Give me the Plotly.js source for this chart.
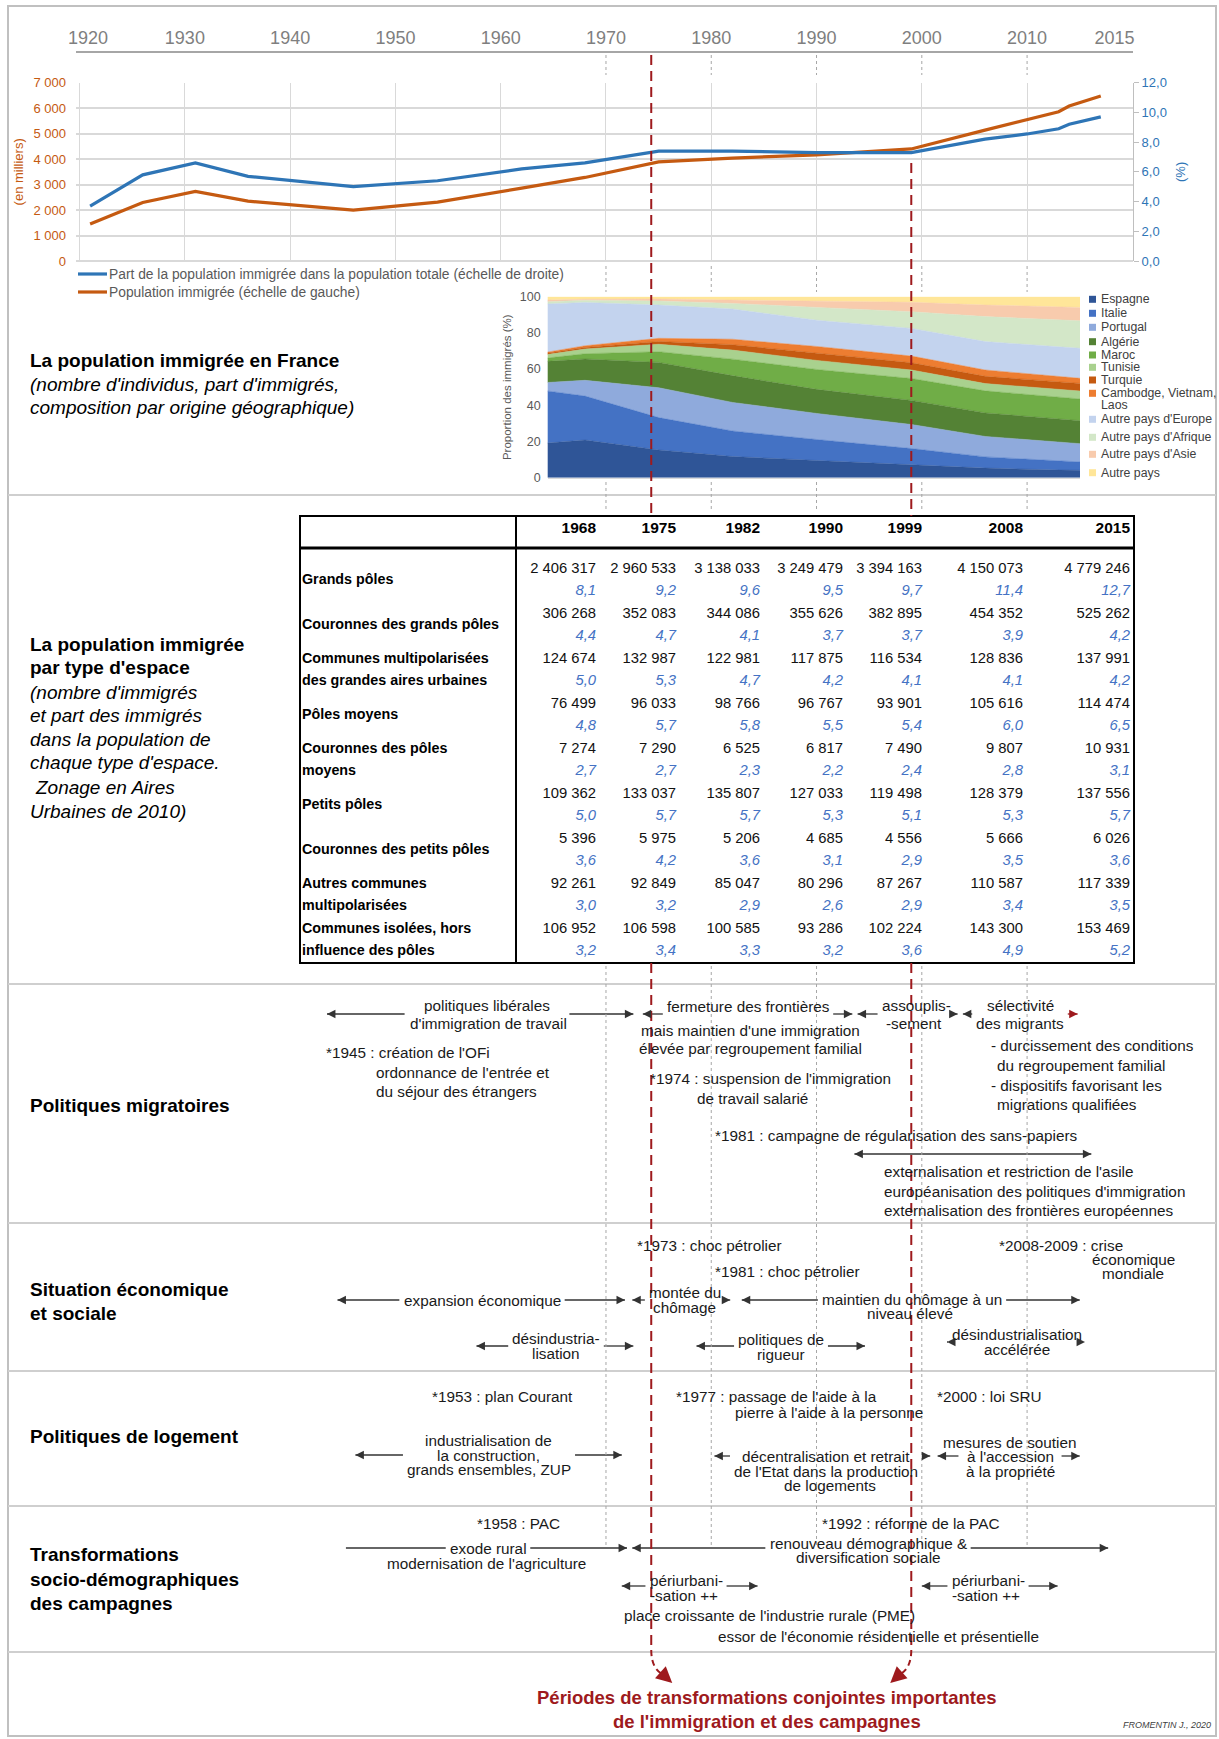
<!DOCTYPE html>
<html lang="fr">
<head>
<meta charset="utf-8">
<title>La population immigrée en France</title>
<script src="https://cdn.plot.ly/plotly-3.0.1.min.js"></script>
<style>
html,body{margin:0;padding:0;background:#fff;}
#chart{width:1219px;height:1739px;}
</style>
</head>
<body>
<div id="chart"></div>
<script>
// ======================= DATA =======================
// Line chart : immigrant population (thousands) and share of total population (%)
const popYears      = [1921, 1926, 1931, 1936, 1946, 1954, 1962, 1968, 1975, 1982, 1990, 1999, 2006, 2010, 2013, 2014, 2017];
const popImmigree   = [1450, 2300, 2730, 2350, 2000, 2310, 2860, 3280, 3890, 4040, 4170, 4400, 5140, 5540, 5860, 6085, 6480];
const partImmigree  = [3.7, 5.8, 6.6, 5.7, 5.0, 5.4, 6.2, 6.6, 7.4, 7.4, 7.3, 7.3, 8.2, 8.55, 8.9, 9.2, 9.7];
const lineNames     = ['Part de la population immigrée dans la population totale (échelle de droite)', 'Population immigrée (échelle de gauche)'];
const topTickLabels = ['1920','1930','1940','1950','1960','1970','1980','1990','2000','2010','2015'];

// Stacked area : composition by origin (%)
const originYears  = [1962, 1968, 1975, 1982, 1990, 1999, 2006, 2013, 2015];
const originNames  = ['Espagne','Italie','Portugal','Algérie','Maroc','Tunisie','Turquie','Cambodge, Vietnam,|Laos',"Autre pays d'Europe","Autre pays d'Afrique","Autre pays d'Asie",'Autre pays'];
const espagne      = [18.0, 20.8, 15.3, 11.7,  9.5,  7.3,  5.3,  4.2,  4.1];
const italie       = [31.8, 24.3, 17.9, 14.1, 11.6,  8.8,  6.2,  4.9,  4.6];
const portugal     = [ 2.0,  8.7, 16.5, 15.8, 14.4, 13.3, 11.3, 10.3, 10.1];
const algerie      = [11.6, 11.8, 14.0, 14.8, 13.3, 13.3, 13.0, 12.8, 12.7];
const maroc        = [ 1.1,  2.9,  5.9,  9.1, 11.0, 12.1, 12.2, 12.0, 12.0];
const tunisie      = [ 1.5,  2.6,  4.1,  5.0,  5.0,  4.7,  4.0,  4.4,  4.4];
const turquie      = [ 0.7,  0.9,  1.6,  3.0,  4.0,  4.0,  4.0,  4.2,  4.2];
const cambodge     = [ 0.3,  0.9,  1.7,  3.0,  3.7,  3.7,  3.5,  3.0,  2.8];
const autreEurope  = [28.5, 23.9, 18.4, 16.7, 14.5, 15.3, 15.7, 16.6, 16.6];
const autreAfrique = [ 1.1,  1.3,  2.2,  3.1,  7.1,  9.2, 13.8, 15.1, 15.2];
const autreAsie    = [ 1.2,  0.5,  1.1,  1.9,  3.3,  5.2,  6.4,  7.0,  7.4];
const autrePays    = [ 2.2,  1.4,  1.3,  1.8,  2.6,  3.1,  4.6,  5.5,  5.9];
const originSeries = [espagne, italie, portugal, algerie, maroc, tunisie, turquie, cambodge, autreEurope, autreAfrique, autreAsie, autrePays];
const originColors = ['#2f5597','#4472c4','#8faadc','#548235','#70ad47','#a9d18e','#c55a11','#ed7d31','#c3d3ee','#d3e7c8','#f8cbad','#ffe699'];

// Table : immigrants by type of area (count, share %)
const tableYears = ['1968','1975','1982','1990','1999','2008','2015'];
const spaceTypes = ['Grands pôles','Couronnes des grands pôles','Communes multipolarisées|des grandes aires urbaines','Pôles moyens','Couronnes des pôles|moyens','Petits pôles','Couronnes des petits pôles','Autres communes|multipolarisées','Communes isolées, hors|influence des pôles'];
const immigrantCounts = [
  [2406317, 2960533, 3138033, 3249479, 3394163, 4150073, 4779246],
  [306268, 352083, 344086, 355626, 382895, 454352, 525262],
  [124674, 132987, 122981, 117875, 116534, 128836, 137991],
  [76499, 96033, 98766, 96767, 93901, 105616, 114474],
  [7274, 7290, 6525, 6817, 7490, 9807, 10931],
  [109362, 133037, 135807, 127033, 119498, 128379, 137556],
  [5396, 5975, 5206, 4685, 4556, 5666, 6026],
  [92261, 92849, 85047, 80296, 87267, 110587, 117339],
  [106952, 106598, 100585, 93286, 102224, 143300, 153469]
];
const immigrantShares = [
  [8.1, 9.2, 9.6, 9.5, 9.7, 11.4, 12.7],
  [4.4, 4.7, 4.1, 3.7, 3.7, 3.9, 4.2],
  [5.0, 5.3, 4.7, 4.2, 4.1, 4.1, 4.2],
  [4.8, 5.7, 5.8, 5.5, 5.4, 6.0, 6.5],
  [2.7, 2.7, 2.3, 2.2, 2.4, 2.8, 3.1],
  [5.0, 5.7, 5.7, 5.3, 5.1, 5.3, 5.7],
  [3.6, 4.2, 3.6, 3.1, 2.9, 3.5, 3.6],
  [3.0, 3.2, 2.9, 2.6, 2.9, 3.4, 3.5],
  [3.2, 3.4, 3.3, 3.2, 3.6, 4.9, 5.2]
];

// Timeline periods (start year, end year)
const migrationPeriods = [[1943.5, 1972.6], [1973.5, 1993.4], [1993.9, 2003.4], [2003.9, 2014.8], [1993.6, 2016.1]];
const economyPeriods   = [[1944.5, 1971.8], [1972.5, 1981.8], [1982.9, 2015.0], [1957.7, 1972.6], [1978.6, 1994.6], [2002.4, 2015.5]];
const housingPeriods   = [[1946.2, 1971.5], [1980.3, 2000.8], [2001.5, 2015.0]];
const ruralPeriods     = [[1945.3, 1972.0], [1972.5, 2017.7], [1971.5, 1984.4], [2000.0, 2012.9]];
const turningPoints    = [1974.3, 1999];
const decadeGuides     = [1970, 1980, 1990, 2000, 2010];

// ======================= LAYOUT HELPERS =======================
const W = 1219, H = 1739;
const X = p => p / W, Y = p => 1 - p / H;
const F = '"Liberation Sans", Arial, Helvetica, sans-serif';
const XR = [1919.66, 2020.06], XD = [76, 1133];
const yr2px = yr => XD[0] + (yr - XR[0]) / (XR[1] - XR[0]) * (XD[1] - XD[0]);
const FS = 15.3, TC = '#1a1a1a', RED = '#9e1a1d', AC = '#333333';
const lineColors = ['#2e75b6', '#c55a11'];
const cv = document.createElement('canvas').getContext('2d');
function tw(s, size, weight) { cv.font = (weight || 'normal') + ' ' + size + 'px "Liberation Sans", Arial'; return cv.measureText(s).width; }

const traces = [];
const shapes = [];
const annotations = [];

// ---------- line chart ----------
traces.push({type:'scatter', mode:'lines', x: popYears, y: partImmigree, xaxis:'x', yaxis:'y2',
  name: lineNames[0], line:{color:lineColors[0], width:3.2}, showlegend:false, hoverinfo:'skip'});
traces.push({type:'scatter', mode:'lines', x: popYears, y: popImmigree, xaxis:'x', yaxis:'y',
  name: lineNames[1], line:{color:lineColors[1], width:3.2}, showlegend:false, hoverinfo:'skip'});
// carrier for the top year axis
traces.push({type:'scatter', mode:'markers', x:[1920], y:[null], xaxis:'x2', yaxis:'y', showlegend:false, hoverinfo:'skip'});

// ---------- stacked area ----------
originSeries.forEach((s, i) => {
  traces.push({type:'scatter', mode:'lines', x: originYears, y: s, xaxis:'x3', yaxis:'y3',
    stackgroup:'origin', name: originNames[i].replace('|',' '),
    line:{width:0.5, color: originColors[i]}, fillcolor: originColors[i],
    showlegend:false, hoverinfo:'skip'});
});

// ---------- table (text drawn on a hidden axis pair) ----------
const colRight = [296, 376, 460, 543, 622, 723, 830];
const rowCenter = i => 64 + 45 * i;
const fmtInt = n => String(n).replace(/\B(?=(\d{3})+(?!\d))/g, '\u00a0');
const fmtPct = v => v.toFixed(1).replace('.', ',');
traces.push({type:'scatter', mode:'text', xaxis:'x4', yaxis:'y4', x: colRight, y: colRight.map(() => 13),
  text: tableYears.map(t => '<b>' + t + '</b>'), textposition:'middle left',
  textfont:{family:F, size:15.5, color:'#000'}, cliponaxis:false, showlegend:false, hoverinfo:'skip'});
const nx = [], ny = [], nt = [], px_ = [], py_ = [], pt = [];
immigrantCounts.forEach((row, i) => row.forEach((v, j) => {
  nx.push(colRight[j]); ny.push(rowCenter(i) - 11); nt.push(fmtInt(v));
  px_.push(colRight[j]); py_.push(rowCenter(i) + 11); pt.push('<i>' + fmtPct(immigrantShares[i][j]) + '</i>');
}));
traces.push({type:'scatter', mode:'text', xaxis:'x4', yaxis:'y4', x: nx, y: ny, text: nt, textposition:'middle left',
  textfont:{family:F, size:14.8, color:'#111'}, cliponaxis:false, showlegend:false, hoverinfo:'skip'});
traces.push({type:'scatter', mode:'text', xaxis:'x4', yaxis:'y4', x: px_, y: py_, text: pt, textposition:'middle left',
  textfont:{family:F, size:14.8, color:'#4472c4'}, cliponaxis:false, showlegend:false, hoverinfo:'skip'});
const lx = [], ly = [], lt = [];
spaceTypes.forEach((lab, i) => {
  const parts = lab.split('|');
  if (parts.length === 1) { lx.push(2); ly.push(rowCenter(i)); lt.push('<b>' + parts[0] + '</b>'); }
  else { parts.forEach((p, k) => { lx.push(2); ly.push(rowCenter(i) + (k === 0 ? -11 : 11)); lt.push('<b>' + p + '</b>'); }); }
});
traces.push({type:'scatter', mode:'text', xaxis:'x4', yaxis:'y4', x: lx, y: ly, text: lt, textposition:'middle right',
  textfont:{family:F, size:14.3, color:'#000'}, cliponaxis:false, showlegend:false, hoverinfo:'skip'});

// ---------- frame & separators ----------
shapes.push({type:'rect', xref:'paper', yref:'paper', x0:X(8), x1:X(1216), y0:Y(6), y1:Y(1736), line:{color:'#c0c0c0', width:2}});
[495, 984, 1223, 1371, 1506, 1652].forEach(py => shapes.push({type:'line', xref:'paper', yref:'paper', x0:X(8), x1:X(1216), y0:Y(py), y1:Y(py), line:{color:'#cfcfcf', width:2}}));
// table borders
shapes.push({type:'rect', xref:'paper', yref:'paper', x0:X(300), x1:X(1134), y0:Y(516), y1:Y(963), line:{color:'#000', width:2}});
shapes.push({type:'line', xref:'paper', yref:'paper', x0:X(300), x1:X(1134), y0:Y(548), y1:Y(548), line:{color:'#000', width:3}});
shapes.push({type:'line', xref:'paper', yref:'paper', x0:X(516), x1:X(516), y0:Y(516), y1:Y(963), line:{color:'#000', width:2}});

// ---------- timeline arrows ----------
function head(px, py, dir, color) {
  annotations.push({xref:'paper', yref:'paper', x:X(px), y:Y(py), ax: dir * 9, ay: 0, axref:'pixel', ayref:'pixel',
    text:'', showarrow:true, arrowhead:2, arrowsize:1.3, arrowwidth:1.3, arrowcolor:color, standoff:0});
}
const arrowSpecs = [
  {p: migrationPeriods[0], y:1014, gap:{cx:487, lines:["politiques libérales","d'immigration de travail"]}},
  {p: migrationPeriods[1], y:1014, gap:{cx:748, lines:["fermeture des frontières"]}},
  {p: migrationPeriods[2], y:1014, gap:{cx:916, lines:["assouplis-","-sement"]}},
  {p: migrationPeriods[3], y:1014, gap:{cx:1020, lines:["sélectivité","des migrants"]}, endColor: RED},
  {p: migrationPeriods[4], y:1154},
  {p: economyPeriods[0], y:1300, gap:{cx:482, lines:["expansion économique"]}},
  {p: economyPeriods[1], y:1300, gap:{cx:685, lines:["montée du","chômage"]}},
  {p: economyPeriods[2], y:1300, gap:{cx:912, lines:["maintien du chômage à un","niveau élevé"]}},
  {p: economyPeriods[3], y:1346, gap:{cx:556, lines:["désindustria-","lisation"]}},
  {p: economyPeriods[4], y:1346, gap:{cx:781, lines:["politiques de","rigueur"]}},
  {p: economyPeriods[5], y:1342, gap:{cx:1017, lines:["désindustrialisation","accélérée"]}},
  {p: housingPeriods[0], y:1455, gap:{cx:489, lines:["industrialisation de","la construction,","grands ensembles, ZUP"]}},
  {p: housingPeriods[1], y:1456, gap:{cx:826, lines:["décentralisation et retrait","de l'Etat dans la production"]}},
  {p: housingPeriods[2], y:1456, gap:{cx:1010, lines:["à l'accession"], pad:8}},
  {p: ruralPeriods[0], y:1548, gap:{cx:488, lines:["exode rural"]}, noStart:true},
  {p: ruralPeriods[1], y:1548, gap:{cx:868, lines:["renouveau démographique &"]}},
  {p: ruralPeriods[2], y:1586, gap:{cx:686, lines:["périurbani-","-sation ++"]}},
  {p: ruralPeriods[3], y:1586, gap:{cx:988, lines:["périurbani-","-sation ++"]}}
];
arrowSpecs.forEach(a => {
  const x0 = yr2px(a.p[0]), x1 = yr2px(a.p[1]);
  let segs = [[x0, x1]];
  if (a.gap) {
    const w = Math.max(...a.gap.lines.map(s => tw(s, FS)));
    const pad = a.gap.pad || 4;
    segs = [[x0, a.gap.cx - w / 2 - pad], [a.gap.cx + w / 2 + pad, x1]];
  }
  segs.forEach((s, k) => {
    if (s[1] - s[0] > 0.5) shapes.push({type:'line', xref:'paper', yref:'paper', x0:X(s[0]), x1:X(s[1]), y0:Y(a.y), y1:Y(a.y),
      line:{color: (k === segs.length - 1 && a.endColor) ? a.endColor : AC, width:1.3}});
  });
  if (!a.noStart) head(x0, a.y, 1, AC);
  head(x1, a.y, -1, a.endColor || AC);
});

// ---------- guides: dotted decades, dashed turning points ----------
decadeGuides.forEach(d => {
  [[55, 75], [266, 292], [482, 512], [966, 1545]].forEach(r => shapes.push({type:'line', xref:'x', yref:'paper', x0:d, x1:d, y0:Y(r[0]), y1:Y(r[1]),
    line:{color:'#a6a6a6', width:1, dash:'dot'}}));
});
const tpRanges = [[[55, 516], [963, 1650]], [[163, 516], [963, 1648]]];
turningPoints.forEach((t, i) => {
  tpRanges[i].forEach(r => shapes.push({type:'line', xref:'x', yref:'paper', x0:t, x1:t, y0:Y(r[0]), y1:Y(r[1]),
    line:{color:RED, width:2, dash:'10px,6px'}}));
  const xp = yr2px(t), dir = i === 0 ? 1 : -1;
  shapes.push({type:'path', xref:'paper', yref:'paper',
    path:`M ${X(xp)},${Y(1650)} Q ${X(xp)},${Y(1668)} ${X(xp + dir * 11)},${Y(1674)}`,
    line:{color:RED, width:2, dash:'6px,4px'}});
  annotations.push({xref:'paper', yref:'paper', x:X(xp + dir * 21), y:Y(1683), ax:-dir * 11, ay:-10, axref:'pixel', ayref:'pixel',
    text:'', showarrow:true, arrowhead:2, arrowsize:1.6, arrowwidth:2, arrowcolor:RED, standoff:0});
});

// ---------- text helpers ----------
function txt(px, py, text, o) {
  o = o || {};
  annotations.push({xref:'paper', yref:'paper', x:X(px), y:Y(py), text:text, showarrow:false,
    xanchor:o.anchor || 'center', yanchor:'middle', borderpad:0,
    font:{family:F, size:o.size || FS, color:o.color || TC}});
}
const L = {anchor:'left'};

// line chart legend (built from the series names and colours)
[274, 292].forEach((py, i) => {
  shapes.push({type:'line', xref:'paper', yref:'paper', x0:X(78), x1:X(107), y0:Y(py), y1:Y(py), line:{color:lineColors[i], width:3.2}});
  txt(108, py, lineNames[i], {anchor:'left', size:13.8, color:'#595959'});
});

// left section titles
const T = {anchor:'left', size:19, color:'#000'};
txt(29, 360, '<b>La population immigrée en France</b>', T);
txt(29, 384, "<i>(nombre d'individus, part d'immigrés,</i>", T);
txt(29, 407, '<i>composition par origine géographique)</i>', T);
txt(29, 645, '<b>La population immigrée</b>', T);
txt(29, 668, "<b>par type d'espace</b>", T);
txt(29, 692, "<i>(nombre d'immigrés</i>", T);
txt(29, 715, '<i>et part des immigrés</i>', T);
txt(29, 739, '<i>dans la population de</i>', T);
txt(29, 763, "<i>chaque type d'espace.</i>", T);
txt(34, 787, '<i>Zonage en Aires</i>', T);
txt(29, 811, '<i>Urbaines de 2010)</i>', T);
txt(29, 1105, '<b>Politiques migratoires</b>', T);
txt(29, 1289, '<b>Situation économique</b>', T);
txt(29, 1313, '<b>et sociale</b>', T);
txt(29, 1436, '<b>Politiques de logement</b>', T);
txt(29, 1554, '<b>Transformations</b>', T);
txt(29, 1579, '<b>socio-démographiques</b>', T);
txt(29, 1603, '<b>des campagnes</b>', T);

// Politiques migratoires
txt(487, 1005, 'politiques libérales'); txt(488, 1023, "d'immigration de travail");
txt(748, 1006, 'fermeture des frontières'); txt(750, 1030, "mais maintien d'une immigration"); txt(750, 1048, 'élevée par regroupement familial');
txt(916, 1005, 'assouplis-'); txt(914, 1023, '-sement');
txt(1020, 1005, 'sélectivité'); txt(1020, 1023, 'des migrants');
txt(325, 1052, "*1945 : création de l'OFi", L); txt(375, 1072, "ordonnance de l'entrée et", L); txt(375, 1091, 'du séjour des étrangers', L);
txt(649, 1078, "*1974 : suspension de l'immigration", L); txt(752, 1098, 'de travail salarié');
txt(714, 1135, '*1981 : campagne de régularisation des sans-papiers', L);
txt(883, 1171, "externalisation et restriction de l'asile", L);
txt(883, 1191, "européanisation des politiques d'immigration", L);
txt(883, 1210, 'externalisation des frontières européennes', L);
txt(990, 1045, '- durcissement des conditions', L); txt(996, 1065, 'du regroupement familial', L);
txt(990, 1085, '- dispositifs favorisant les', L); txt(996, 1104, 'migrations qualifiées', L);

// Situation économique
txt(636, 1245, '*1973 : choc pétrolier', L); txt(714, 1271, '*1981 : choc pétrolier', L);
txt(998, 1245, '*2008-2009 : crise', L); txt(1133, 1259, 'économique'); txt(1133, 1273, 'mondiale');
txt(482, 1300, 'expansion économique');
txt(685, 1292, 'montée du'); txt(685, 1307, 'chômage');
txt(912, 1299, 'maintien du chômage à un'); txt(910, 1313, 'niveau élevé');
txt(556, 1338, 'désindustria-'); txt(556, 1353, 'lisation');
txt(781, 1339, 'politiques de'); txt(781, 1354, 'rigueur');
txt(1017, 1334, 'désindustrialisation'); txt(1017, 1349, 'accélérée');

// Politiques de logement
txt(431, 1396, '*1953 : plan Courant', L);
txt(675, 1396, "*1977 : passage de l'aide à la", L); txt(734, 1412, "pierre à l'aide à la personne", L);
txt(936, 1396, '*2000 : loi SRU', L);
txt(489, 1440, 'industrialisation de'); txt(489, 1455, 'la construction,'); txt(489, 1469, 'grands ensembles, ZUP');
txt(826, 1456, 'décentralisation et retrait'); txt(826, 1471, "de l'Etat dans la production"); txt(830, 1485, 'de logements');
txt(1010, 1442, 'mesures de soutien'); txt(1010, 1456, "à l'accession"); txt(1010, 1471, 'à la propriété');

// Transformations des campagnes
txt(476, 1523, '*1958 : PAC', L); txt(821, 1523, '*1992 : réforme de la PAC', L);
txt(488, 1548, 'exode rural'); txt(486, 1563, "modernisation de l'agriculture");
txt(868, 1543, 'renouveau démographique &amp;'); txt(868, 1557, 'diversification sociale');
txt(686, 1580, 'périurbani-'); txt(684, 1595, '-sation ++');
txt(988, 1580, 'périurbani-'); txt(986, 1595, '-sation ++');
txt(769, 1615, "place croissante de l'industrie rurale (PME)");
txt(878, 1636, "essor de l'économie résidentielle et présentielle");

// conclusion
txt(767, 1697, '<b>Périodes de transformations conjointes importantes</b>', {size:18.5, color:RED});
txt(767, 1721, "<b>de l'immigration et des campagnes</b>", {size:18.5, color:RED});
txt(1212, 1725, '<i>FROMENTIN J., 2020</i>', {anchor:'right', size:9, color:'#404040'});

// ---------- stacked chart legend (built from series names & colours) ----------
const legY = [299.3, 313.3, 327.3, 341.7, 355, 367.3, 380, 393.3, 419.3, 437.3, 454.3, 472.7];
originNames.forEach((n, i) => {
  shapes.push({type:'rect', xref:'paper', yref:'paper', x0:X(1089), x1:X(1096), y0:Y(legY[i] + 3.5), y1:Y(legY[i] - 3.5),
    fillcolor: originColors[i], line:{width:0}});
  n.split('|').forEach((part, k) => txt(1100, legY[i] + k * 12, part, {anchor:'left', size:12.3, color:'#404040'}));
});

// top tick positions: first/last labels are nudged inward as in the original layout
const topTickPos = topTickLabels.map(Number);
topTickPos[0] = 1920.8;
topTickPos[topTickPos.length - 1] = 2018.3;

const layout = {
  width: W, height: H, margin:{l:0, r:0, t:0, b:0},
  paper_bgcolor:'#ffffff', plot_bgcolor:'rgba(0,0,0,0)',
  separators: ', ', font:{family:F, color:'#404040'}, hovermode:false,
  showlegend:false,
  xaxis:{domain:[X(XD[0]), X(XD[1])], range:XR, anchor:'y', showticklabels:false, ticks:'',
    showgrid:true, gridcolor:'#d9d9d9', gridwidth:1, tick0:1920, dtick:10, zeroline:false, showline:false},
  yaxis:{domain:[Y(261), Y(82.7)], range:[0, 7000], dtick:1000, tickformat:',d', anchor:'x',
    tickfont:{size:13, color:'#c55a11'}, gridcolor:'#d9d9d9', gridwidth:2, ticklabelstandoff:9,
    zeroline:true, zerolinecolor:'#d9d9d9', zerolinewidth:2, showline:false, ticks:'',
    title:{text:'(en milliers)', font:{size:13, color:'#c55a11'}, standoff:6}},
  yaxis2:{overlaying:'y', side:'right', anchor:'x', range:[0, 12], dtick:2, tickformat:'.1f',
    tickfont:{size:13, color:'#2e75b6'}, showgrid:false, zeroline:false,
    showline:true, linecolor:'#bfbfbf', linewidth:1, ticks:'outside', ticklen:5, tickcolor:'#bfbfbf',
    title:{text:'(%)', font:{size:13, color:'#2e75b6'}, standoff:9}},
  xaxis2:{overlaying:'x', side:'top', anchor:'free', position:Y(52), range:XR,
    tickmode:'array', tickvals:topTickPos, ticktext:topTickLabels,
    tickfont:{size:18, color:'#7f7f7f'}, showgrid:false, zeroline:false,
    showline:true, linecolor:'#a6a6a6', linewidth:2, ticks:'', ticklabelstandoff:0},
  xaxis3:{domain:[X(547.7), X(1080)], range:[1964.45, 2015], anchor:'y3', showticklabels:false, ticks:'',
    showgrid:false, zeroline:false, showline:true, linecolor:'#d9d9d9'},
  yaxis3:{domain:[Y(477.7), Y(296.7)], range:[0, 100], anchor:'x3', dtick:20, ticklabelstandoff:6,
    tickfont:{size:12.5, color:'#595959'}, showgrid:false, zeroline:false, showline:false, ticks:'',
    title:{text:'Proportion des immigrés (%)', font:{size:11.5, color:'#595959'}, standoff:5}},
  xaxis4:{domain:[X(300), X(1134)], range:[0, 834], anchor:'y4', visible:false, fixedrange:true},
  yaxis4:{domain:[Y(963), Y(516)], range:[447, 0], anchor:'x4', visible:false, fixedrange:true},
  shapes: shapes,
  annotations: annotations
};

Plotly.newPlot('chart', traces, layout, {displayModeBar:false, staticPlot:true});
</script>
</body>
</html>
